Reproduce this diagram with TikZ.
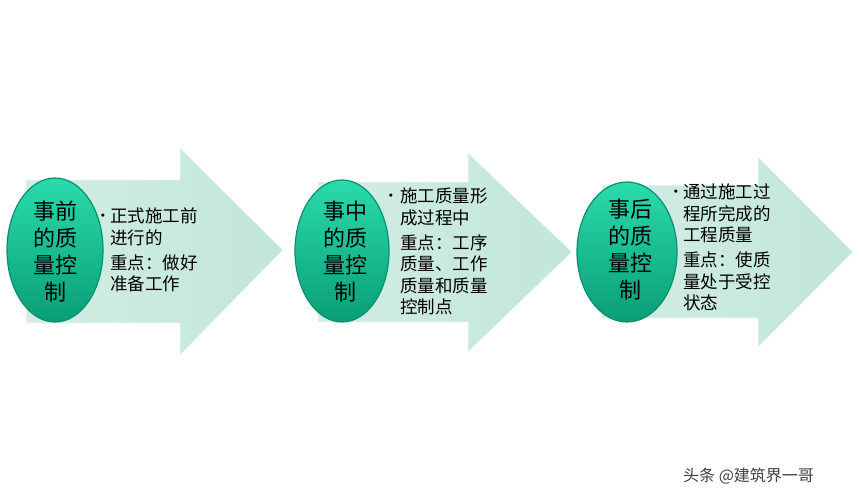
\documentclass[tikz,border=0pt]{standalone}
\usepackage{fontspec}
\newfontfamily\cjk{Noto Sans CJK SC}
\newfontfamily\wmfont{Noto Sans CJK SC}
\definecolor{arrowfill}{HTML}{C2E6D9}
\definecolor{arrowlight}{HTML}{D2EDE3}
\definecolor{ovaltop}{HTML}{2ADBAC}
\definecolor{ovalbot}{HTML}{0A9E77}
\definecolor{ovaledge}{HTML}{08906B}
\tikzset{
  bigarrow/.style={shade, left color=arrowlight, right color=arrowfill, draw=white!80!arrowfill, line width=0.6pt},
  oval/.style={top color=ovaltop, bottom color=ovalbot, draw=ovaledge, line width=1.2pt},
  ovaltext/.style={align=center, inner sep=0pt, font=\cjk\fontsize{22}{27}\selectfont},
  bodytext/.style={align=left, inner sep=0pt, anchor=north west, font=\cjk\fontsize{17.5}{21.5}\selectfont},
  dot/.style={inner sep=0pt, font=\fontsize{12}{12}\selectfont}
}
\begin{document}
\begin{tikzpicture}[x=1pt,y=-1pt]
    \useasboundingbox (0,0) rectangle (860,503);

    % first arrow
    \draw[bigarrow] (26,180) -- (180,180) -- (180,148) -- (283,250) -- (180,355) -- (180,323) -- (26,323) -- cycle;
    \draw[oval] (55,250) ellipse (48 and 72);
    \node[ovaltext] (before) at (56,252) {事前\\的质\\量控\\制};
    \node[dot] (dotA) at (103,216) {\textbullet};
    \node[bodytext] (textA) at (110,208) {正式施工前\\进行的\\[3.5pt]重点：做好\\准备工作};

    % second arrow
    \draw[bigarrow] (318,182) -- (468,182) -- (468,153) -- (572,252) -- (468,352) -- (468,322) -- (318,322) -- cycle;
    \draw[oval] (342,251) ellipse (47 and 71);
    \node[ovaltext] (during) at (345,252) {事中\\的质\\量控\\制};
    \node[dot] (dotB) at (391,196) {\textbullet};
    \node[bodytext] (textB) at (400,188) {施工质量形\\成过程中\\[3.5pt]重点：工序\\质量、工作\\质量和质量\\控制点};

    % third arrow
    \draw[bigarrow] (602,185) -- (758,185) -- (758,157) -- (853,252) -- (758,347) -- (758,318) -- (602,318) -- cycle;
    \draw[oval] (627,252) ellipse (50 and 70);
    \node[ovaltext] (after) at (630,250) {事后\\的质\\量控\\制};
    \node[dot] (dotC) at (676,192) {\textbullet};
    \node[bodytext] (textC) at (683,184) {通过施工过\\程所完成的\\工程质量\\[3.5pt]重点：使质\\量处于受控\\状态};

    % watermark
    \node[anchor=west, inner sep=0pt, text=black!75, font=\wmfont\fontsize{16}{16}\selectfont] (mark) at (683,476) {头条 @建筑界一哥};

\end{tikzpicture}
\end{document}
